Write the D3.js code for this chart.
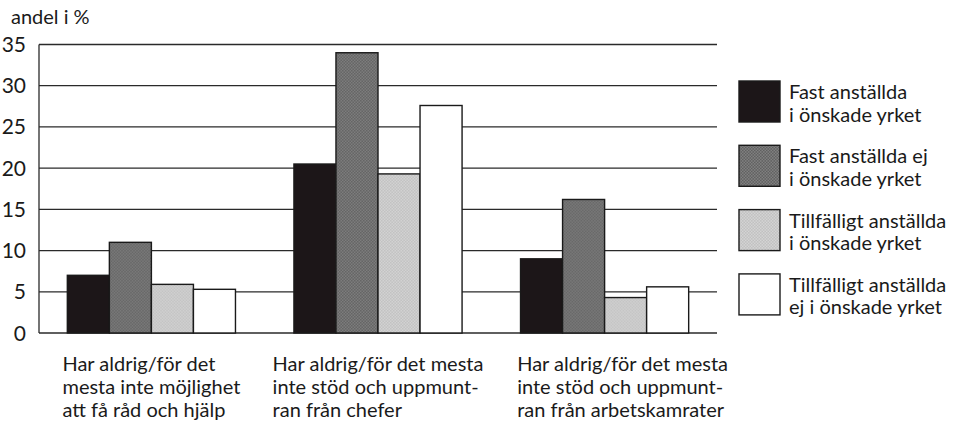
<!DOCTYPE html>
<html>
<head>
<meta charset="utf-8">
<script src="https://cdn.jsdelivr.net/npm/d3@7"></script>
<style>
  body { margin: 0; background: #fff; }
  svg text { font-family: Lato, "Open Sans", sans-serif; fill: #1a1a1a; }
</style>
</head>
<body>
<div id="chart"></div>
<script>
// categories (x groups), each label split in lines
var categories = [
  ["Har aldrig/för det", "mesta inte möjlighet", "att få råd och hjälp"],
  ["Har aldrig/för det mesta", "inte stöd och uppmunt-", "ran från chefer"],
  ["Har aldrig/för det mesta", "inte stöd och uppmunt-", "ran från arbetskamrater"]
];

// series names (legend), each split in two lines
var seriesNames = [
  ["Fast anställda", "i önskade yrket"],
  ["Fast anställda ej", "i önskade yrket"],
  ["Tillfälligt anställda", "i önskade yrket"],
  ["Tillfälligt anställda", "ej i önskade yrket"]
];

// values per series, one per category
var fastOnskat = [7.0, 20.5, 9.0];
var fastEjOnskat = [11.0, 34.0, 16.2];
var tillfOnskat = [5.9, 19.3, 4.3];
var tillfEjOnskat = [5.3, 27.6, 5.6];

var yTicks = [0, 5, 10, 15, 20, 25, 30, 35];
var yTitle = "andel i %";

var seriesValues = [fastOnskat, fastEjOnskat, tillfOnskat, tillfEjOnskat];

var width = 958, height = 424;
var margin = { top: 44.5, right: 241, bottom: 91, left: 39 };
var plotW = width - margin.left - margin.right,
    plotH = height - margin.top - margin.bottom;

var svg = d3.select("#chart")
  .append("svg")
  .attr("width", width)
  .attr("height", height);

// fills: black, and dotted screens like the print
var defs = svg.append("defs");
function checker(id, a, b) {
  var p = defs.append("pattern")
    .attr("id", id)
    .attr("width", 3).attr("height", 3)
    .attr("patternUnits", "userSpaceOnUse");
  p.append("rect").attr("width", 3).attr("height", 3).attr("fill", a);
  p.append("rect").attr("width", 1.5).attr("height", 1.5).attr("fill", b);
  p.append("rect").attr("x", 1.5).attr("y", 1.5).attr("width", 1.5).attr("height", 1.5).attr("fill", b);
}
checker("darkDots", "#575757", "#8a8a8a");
checker("lightDots", "#b9b9b9", "#dcdcdc");
var fills = ["#1c1618", "url(#darkDots)", "url(#lightDots)", "#ffffff"];

var g = svg.append("g")
  .attr("transform", "translate(" + margin.left + "," + margin.top + ")");

var x0 = d3.scaleBand()
  .domain(d3.range(categories.length))
  .range([0, plotW])
  .paddingInner(0.258)
  .paddingOuter(0.125);

var x1 = d3.scaleBand()
  .domain(d3.range(seriesNames.length))
  .range([0, x0.bandwidth()]);

var y = d3.scaleLinear()
  .domain([0, 35])
  .range([plotH, 0]);

// gridlines
g.append("g")
  .selectAll("line")
  .data(yTicks)
  .enter()
  .append("line")
  .attr("x1", 0)
  .attr("x2", plotW)
  .attr("y1", function (d) { return y(d); })
  .attr("y2", function (d) { return y(d); })
  .attr("stroke", "#2a2a2a")
  .attr("stroke-width", 1.3);

// left axis line
g.append("line")
  .attr("x1", 0).attr("x2", 0)
  .attr("y1", y(35)).attr("y2", y(0))
  .attr("stroke", "#2a2a2a")
  .attr("stroke-width", 1.3);

// y tick labels
g.append("g")
  .selectAll("text")
  .data(yTicks)
  .enter()
  .append("text")
  .attr("x", -13)
  .attr("y", function (d) { return y(d); })
  .attr("dy", "0.36em")
  .attr("text-anchor", "end")
  .style("font-size", "21px")
  .text(function (d) { return d; });

svg.append("text")
  .attr("x", 11)
  .attr("y", 24)
  .style("font-size", "20px")
  .text(yTitle);

// bars
var groups = g.append("g")
  .selectAll("g")
  .data(categories)
  .enter()
  .append("g")
  .attr("transform", function (d, i) { return "translate(" + x0(i) + ",0)"; });

groups.selectAll("rect")
  .data(function (d, i) { return seriesValues.map(function (s, j) { return { s: j, v: s[i] }; }); })
  .enter()
  .append("rect")
  .attr("x", function (d) { return x1(d.s); })
  .attr("y", function (d) { return y(d.v); })
  .attr("width", x1.bandwidth())
  .attr("height", function (d) { return y(0) - y(d.v); })
  .attr("fill", function (d) { return fills[d.s]; })
  .attr("stroke", "#1a1a1a")
  .attr("stroke-width", 1.4);

// category labels, left aligned block roughly centred under group
var labelShift = [0, 0, 18];
var labels = g.append("g")
  .selectAll("text")
  .data(categories)
  .enter()
  .append("text")
  .attr("y", plotH + 38)
  .style("font-size", "20px");

labels.selectAll("tspan")
  .data(function (d) { return d; })
  .enter()
  .append("tspan")
  .attr("x", 0)
  .attr("dy", function (d, i) { return i === 0 ? 0 : 23; })
  .text(function (d) { return d; });

labels.each(function (d, i) {
  var w = this.getBBox().width;
  var left = x0(i) + x0.bandwidth() / 2 - w / 2 + labelShift[i];
  d3.select(this).selectAll("tspan").attr("x", left);
});

// legend
var legend = svg.append("g")
  .attr("transform", "translate(739,81)")
  .selectAll("g")
  .data(seriesNames)
  .enter()
  .append("g")
  .attr("transform", function (d, i) { return "translate(0," + (i * 64.3) + ")"; });

legend.append("rect")
  .attr("width", 41)
  .attr("height", 41)
  .attr("fill", function (d, i) { return fills[i]; })
  .attr("stroke", "#1a1a1a")
  .attr("stroke-width", 1.4);

legend.append("text")
  .attr("x", 50)
  .attr("y", 18)
  .style("font-size", "20px")
  .selectAll("tspan")
  .data(function (d) { return d; })
  .enter()
  .append("tspan")
  .attr("x", 50)
  .attr("dy", function (d, i) { return i === 0 ? 0 : 22.5; })
  .text(function (d) { return d; });
</script>
</body>
</html>
